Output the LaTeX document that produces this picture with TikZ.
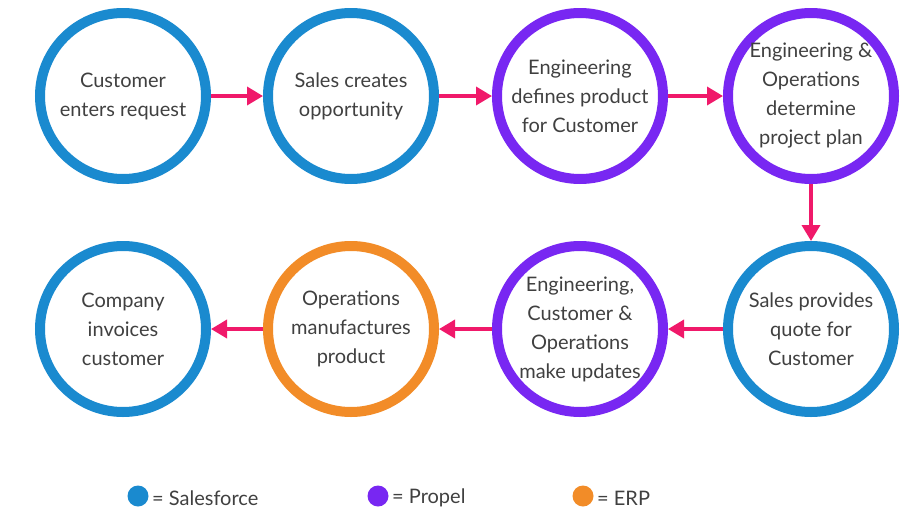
\documentclass[tikz,border=0pt]{standalone}
\usepackage{fontspec}
\setmainfont{Lato}
\usetikzlibrary{arrows.meta}
\definecolor{sf}{HTML}{1A8ACF}
\definecolor{pp}{HTML}{7827F2}
\definecolor{erp}{HTML}{F28C28}
\definecolor{ar}{HTML}{F0196A}
\begin{document}
\begin{tikzpicture}[x=1pt,y=-1pt,
 st/.style={circle,draw=#1,line width=10pt,minimum size=166pt,inner sep=0pt,align=center,
   font=\fontsize{20}{29}\selectfont,text=black!75},
 ar/.style={draw=ar,line width=3.5pt,-{Triangle[length=16pt,width=18pt]}},
 dot/.style={circle,fill=#1,minimum size=21pt,inner sep=0pt},
 lg/.style={font=\fontsize{20}{22}\selectfont,text=black!75,anchor=west,inner sep=0pt}]
\useasboundingbox (0,0) rectangle (906,520);
\node[st=sf] (a) at (123,96) {Customer\\enters request};
\node[st=sf] (b) at (351,96) {Sales creates\\opportunity};
\node[st=pp] (c) at (580,96) {Engineering\\defines product\\for Customer};
\node[st=pp] (d) at (811,96) {Engineering \&\\Operations\\determine\\project plan};
\node[st=sf] (e) at (811,329) {Sales provides\\quote for\\Customer};
\node[st=pp] (f) at (580,329) {Engineering,\\Customer \&\\Operations\\make updates};
\node[st=erp] (g) at (351,329) {Operations\\manufactures\\product};
\node[st=sf] (h) at (123,329) {Company\\invoices\\customer};
\draw[ar] (a) -- (b);
\draw[ar] (b) -- (c);
\draw[ar] (c) -- (d);
\draw[ar] (d) -- (e);
\draw[ar] (e) -- (f);
\draw[ar] (f) -- (g);
\draw[ar] (g) -- (h);
\node[dot=sf] (l1) at (138,496) {};
\node[lg] (t1) at (152,498) {= Salesforce};
\node[dot=pp] (l2) at (378,496) {};
\node[lg] (t2) at (392,498) {= Propel};
\node[dot=erp] (l3) at (583,496) {};
\node[lg] (t3) at (597,498) {= ERP};
\end{tikzpicture}
\end{document}
